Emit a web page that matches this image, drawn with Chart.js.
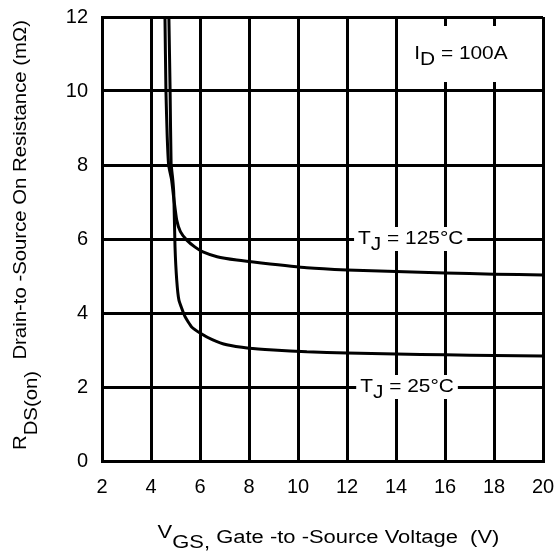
<!DOCTYPE html>
<html>
<head>
<meta charset="utf-8">
<script src="https://cdn.jsdelivr.net/npm/chart.js@4.4.0/dist/chart.umd.min.js"></script>
<style>
  html, body { margin: 0; padding: 0; background: #fff; }
  #wrap { width: 558px; height: 554px; }
</style>
</head>
<body>
<div id="wrap"><canvas id="rdsChart"></canvas></div>
<script>
// Curves: VGS (V) vs RDS(on) (mOhm)
const vgsHot = [4.57, 4.61, 4.66, 4.72, 4.84, 4.93, 5.05, 5.2, 5.46, 5.8, 6.12, 6.7, 7.5, 8.5, 10.36, 12, 14, 16, 18, 20];
const rdsHot = [12, 10, 8.8, 8.0, 7.6, 7.1, 6.51, 6.2, 5.97, 5.78, 5.65, 5.52, 5.43, 5.35, 5.22, 5.16, 5.12, 5.08, 5.05, 5.03];

const vgsCold = [4.73, 4.78, 4.82, 4.89, 4.93, 4.98, 5.05, 5.14, 5.39, 5.65, 6.0, 6.5, 7.09, 8.0, 9.0, 10.36, 12, 14, 16, 18, 20];
const rdsCold = [12, 10, 8.05, 7.6, 7.23, 5.79, 4.89, 4.35, 3.9, 3.63, 3.46, 3.28, 3.14, 3.05, 3.0, 2.95, 2.92, 2.89, 2.87, 2.85, 2.84];

const xTicks = [2, 4, 6, 8, 10, 12, 14, 16, 18, 20];
const yTicks = [0, 2, 4, 6, 8, 10, 12];

const FONT = '"Liberation Sans", Arial, Helvetica, sans-serif';
const STRETCH = 1.16; // the datasheet lettering is a bit wider than Arial

// zip x/y arrays into Chart.js points
function toPoints(xs, ys) {
  return xs.map((x, i) => ({ x: x, y: ys[i] }));
}

// text pieces: [string, vertical offset in px] so subscripts can drop down
function richWidth(ctx, parts, sx) {
  return sx * parts.reduce((w, p) => w + ctx.measureText(p[0]).width, 0);
}
function drawRich(ctx, parts, x, y, sx) {
  ctx.save();
  ctx.translate(x, y);
  ctx.scale(sx, 1);
  let cx = 0;
  parts.forEach(p => {
    ctx.fillText(p[0], cx, p[1]);
    cx += ctx.measureText(p[0]).width;
  });
  ctx.restore();
}

// In-plot labels, anchored in data units
const notes = [
  { parts: [['I', 0], ['D', 6], [' = 100A', 0]], v: 16.65, r: 11.0, padX: 6, padY: 28 },
  { parts: [['T', 0], ['J', 6], [' = 125°C', 0]], v: 14.6, r: 6, padX: 4, padY: 12 },
  { parts: [['T', 0], ['J', 6], [' = 25°C', 0]], v: 14.45, r: 2, padX: 4, padY: 12 }
];

const labelPlugin = {
  id: 'labels',
  afterDatasetsDraw(chart) {
    const ctx = chart.ctx;
    const xs = chart.scales.x, ys = chart.scales.y;
    ctx.save();
    ctx.font = '18px ' + FONT;
    ctx.textBaseline = 'middle';
    notes.forEach(n => {
      const cx = xs.getPixelForValue(n.v);
      const cy = ys.getPixelForValue(n.r);
      const w = richWidth(ctx, n.parts, STRETCH);
      ctx.fillStyle = '#fff';
      ctx.fillRect(cx - w / 2 - n.padX, cy - n.padY, w + 2 * n.padX, 2 * n.padY);
      ctx.fillStyle = '#000';
      drawRich(ctx, n.parts, cx - w / 2, cy, STRETCH);
    });
    ctx.restore();
  },
  afterDraw(chart) {
    const ctx = chart.ctx;
    const area = chart.chartArea;
    ctx.save();
    ctx.font = '18px ' + FONT;
    ctx.fillStyle = '#000';
    ctx.textBaseline = 'alphabetic';

    // x axis title
    const xParts = [['V', -5], ['GS,', 5], [' Gate -to -Source Voltage  (V)', 0]];
    const xw = richWidth(ctx, xParts, 1.22);
    drawRich(ctx, xParts, (area.left + area.right) / 2 + 6 - xw / 2, 543, 1.22);

    // y axis title (rotated)
    const yParts = [['R', 0], ['DS(on)', 11], ['  Drain-to -Source On Resistance (mΩ)', 0]];
    const yw = richWidth(ctx, yParts, 1.13);
    ctx.translate(26, 235);
    ctx.rotate(-Math.PI / 2);
    drawRich(ctx, yParts, -yw / 2, 0, 1.13);
    ctx.restore();
  }
};

const ctx = document.getElementById('rdsChart').getContext('2d');

new Chart(ctx, {
  type: 'line',
  data: {
    datasets: [
      {
        label: 'TJ = 125°C',
        data: toPoints(vgsHot, rdsHot),
        borderColor: '#000',
        borderWidth: 3,
        pointRadius: 0,
        tension: 0.15,
        fill: false
      },
      {
        label: 'TJ = 25°C',
        data: toPoints(vgsCold, rdsCold),
        borderColor: '#000',
        borderWidth: 3,
        pointRadius: 0,
        tension: 0.15,
        fill: false
      }
    ]
  },
  options: {
    responsive: true,
    maintainAspectRatio: false,
    animation: false,
    layout: { padding: { left: 0, top: 17, right: 15, bottom: 0 } },
    plugins: {
      legend: { display: false },
      tooltip: { enabled: false }
    },
    scales: {
      x: {
        type: 'linear',
        min: xTicks[0],
        max: xTicks[xTicks.length - 1],
        afterBuildTicks: s => { s.ticks = xTicks.map(v => ({ value: v })); },
        afterFit: s => { s.height = 93; s.paddingLeft = 0; s.paddingRight = 0; },
        grid: { color: '#000', lineWidth: 3, drawTicks: false },
        border: { color: '#000', width: 3 },
        ticks: { color: '#000', font: { family: FONT, size: 20 }, padding: 14, maxRotation: 0 }
      },
      y: {
        type: 'linear',
        min: yTicks[0],
        max: yTicks[yTicks.length - 1],
        afterBuildTicks: s => { s.ticks = yTicks.map(v => ({ value: v })); },
        afterFit: s => { s.width = 102; s.paddingTop = 0; s.paddingBottom = 0; },
        grid: { color: '#000', lineWidth: 3, drawTicks: false },
        border: { color: '#000', width: 3 },
        ticks: { color: '#000', font: { family: FONT, size: 20 }, padding: 14 }
      }
    }
  },
  plugins: [labelPlugin]
});
</script>
</body>
</html>
